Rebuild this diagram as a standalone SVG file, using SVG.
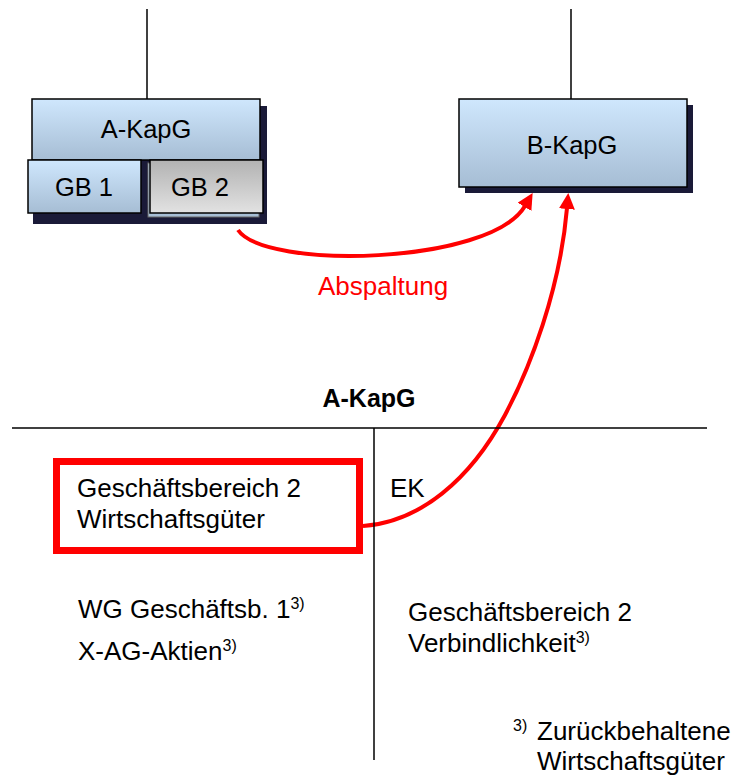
<svg xmlns="http://www.w3.org/2000/svg" width="732" height="776" viewBox="0 0 732 776">
<style>
text{font-family:"Liberation Sans",Arial,sans-serif;font-size:26px;fill:#000}
.c{text-anchor:middle}
.red{fill:#ff0000}
.b{font-weight:bold;font-size:25px}
.sup{font-size:16px}
.box{stroke:#000;stroke-width:1.5}
.shadow{fill:#1a1a38}
.ln{stroke:#000;stroke-width:1.5;fill:none}
.arr{stroke:#ff0000;stroke-width:4;fill:none}
</style>
<defs>
<linearGradient id="blue" x1="0" y1="0" x2="0" y2="1">
<stop offset="0" stop-color="#cfe7fd"/>
<stop offset="1" stop-color="#a6bdd4"/>
</linearGradient>
<linearGradient id="grey" x1="0" y1="0" x2="0" y2="1">
<stop offset="0" stop-color="#b2b2b2"/>
<stop offset="1" stop-color="#e2e2e2"/>
</linearGradient>
<marker id="ah" markerUnits="userSpaceOnUse" markerWidth="20" markerHeight="20" viewBox="0 0 20 20" refX="1" refY="8" orient="auto">
<path d="M0,0 L16,8 L0,16 z" fill="#ff0000"/>
</marker>
</defs>

<g id="connectors">
<line class="ln" x1="147" y1="9" x2="147" y2="99"/>
<line class="ln" x1="571" y1="9" x2="571" y2="99"/>
<path class="arr" d="M238,230 C265,270 490,265 525,206" marker-end="url(#ah)"/>
<path class="arr" d="M363,526 C420,522 470,480 505,415 C530,368 560,290 567,208" marker-end="url(#ah)"/>
</g>

<g id="a-kapg-top">
<rect class="shadow" x="33" y="106" width="234" height="118"/>
<rect class="box" x="32" y="99" width="228" height="61" fill="url(#blue)"/>
<text class="c" x="146" y="138" style="font-size:25.5px">A-KapG</text>
</g>
<g id="gb1">
<rect class="box" x="28" y="160" width="113" height="53" fill="url(#blue)"/>
<text class="c" x="84" y="196" style="font-size:25.5px">GB 1</text>
</g>
<g id="gb2">
<rect x="148" y="163" width="111" height="54" fill="url(#blue)" stroke="#666" stroke-width="1"/>
<rect class="box" x="150" y="160" width="113" height="53" fill="url(#grey)"/>
<text class="c" x="200" y="196" style="font-size:25.5px">GB 2</text>
</g>
<g id="b-kapg">
<rect class="shadow" x="465" y="105" width="228" height="88"/>
<rect class="box" x="459" y="99" width="228" height="88" fill="url(#blue)"/>
<text class="c" x="572" y="154" style="font-size:25.5px">B-KapG</text>
</g>
<g id="abspaltung-label">
<text class="red" x="318" y="295">Abspaltung</text>
</g>

<g id="balance">
<text class="c b" x="369" y="407">A-KapG</text>
<line class="ln" x1="12" y1="428" x2="707" y2="428"/>
<line class="ln" x1="374" y1="428" x2="374" y2="760"/>
</g>
<g id="gb2-assets">
<rect x="56.5" y="461.5" width="303" height="89" fill="none" stroke="#ff0000" stroke-width="7"/>
<text x="77" y="497">Geschäftsbereich 2</text>
<text x="77" y="528">Wirtschaftsgüter</text>
</g>
<g id="ek">
<text x="390" y="497">EK</text>
</g>
<g id="left-items">
<text x="78" y="618">WG Geschäftsb. 1<tspan class="sup" dy="-9">3)</tspan></text>
<text x="78" y="660">X-AG-Aktien<tspan class="sup" dy="-9">3)</tspan></text>
</g>
<g id="right-items">
<text x="408" y="621">Geschäftsbereich 2</text>
<text x="408" y="652">Verbindlichkeit<tspan class="sup" dy="-9">3)</tspan></text>
</g>
<g id="footnote">
<text class="sup" x="513" y="731">3)</text>
<text x="537" y="740">Zurückbehaltene</text>
<text x="537" y="770">Wirtschaftsgüter</text>
</g>
</svg>
